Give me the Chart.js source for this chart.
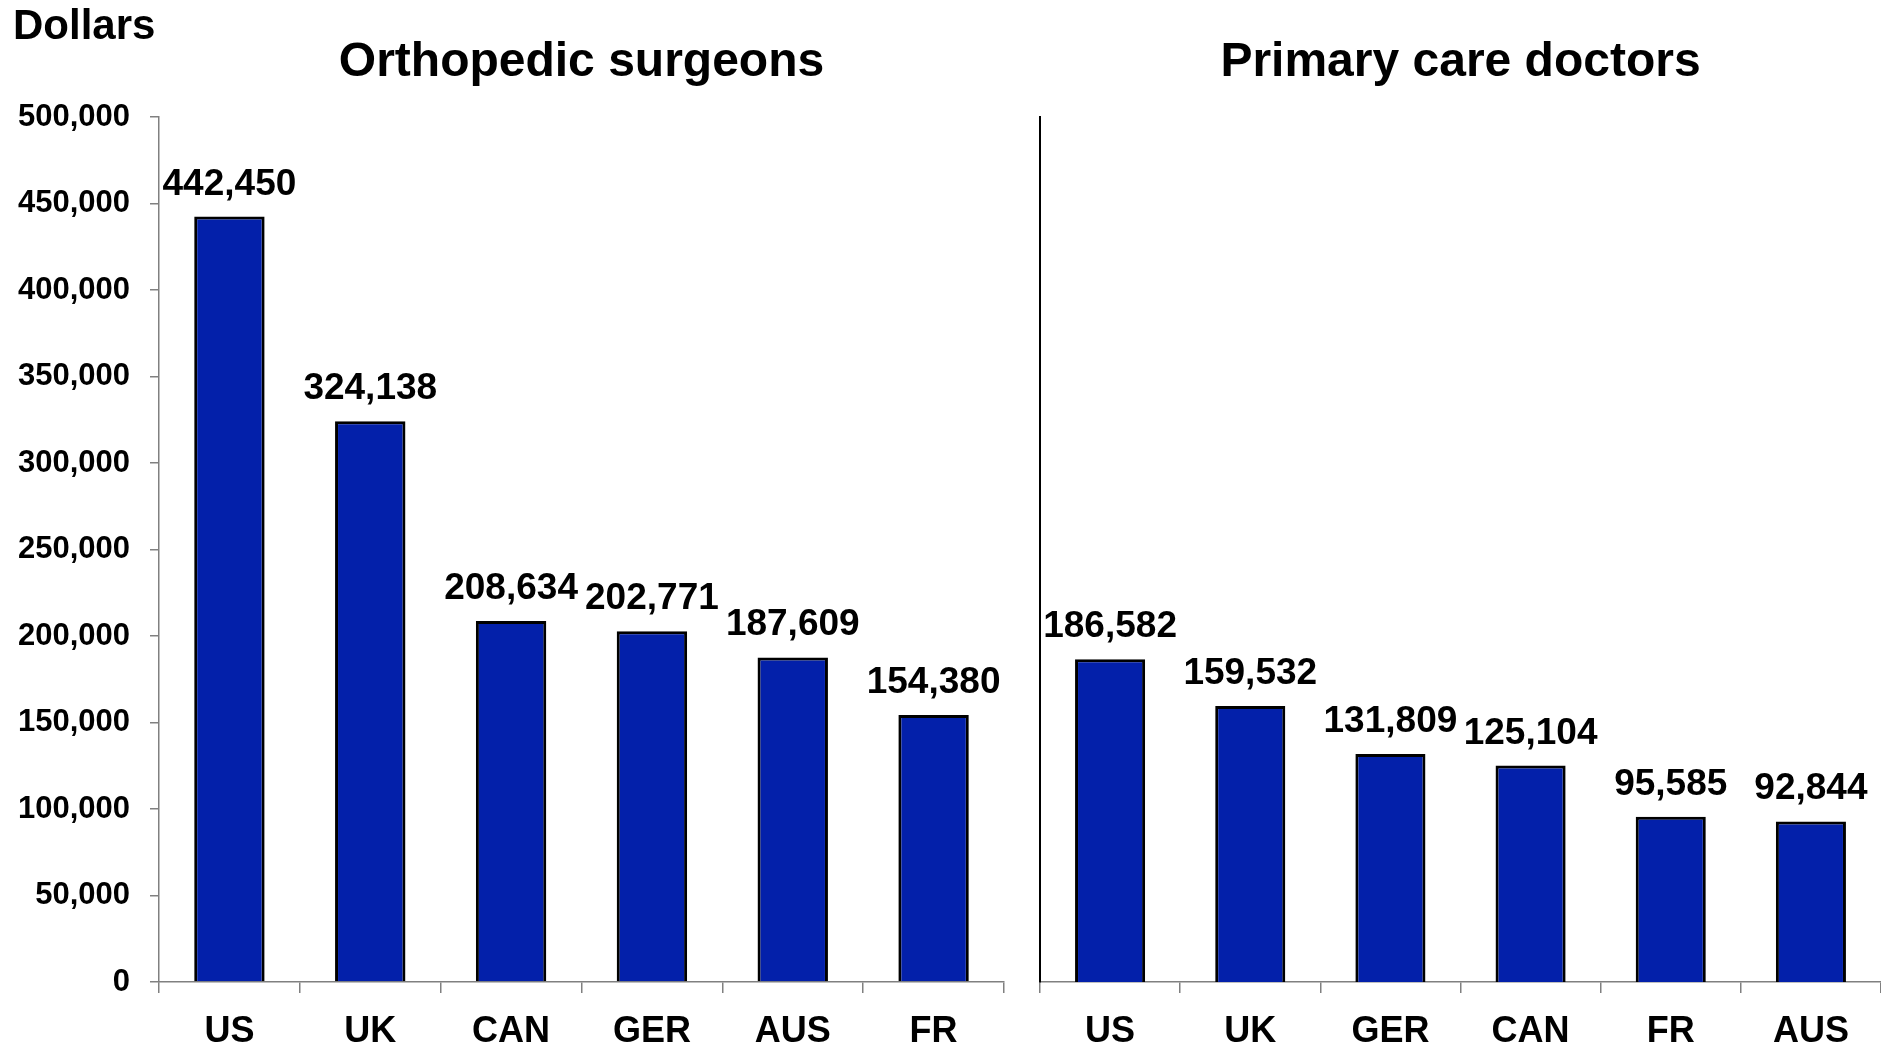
<!DOCTYPE html>
<html>
<head>
<meta charset="utf-8">
<title>Physician earnings</title>
<script src="https://cdn.jsdelivr.net/npm/chart.js@4.4.1/dist/chart.umd.min.js"></script>
<style>
  html, body { margin: 0; padding: 0; background: #fff; overflow: hidden; }
  #wrap { position: relative; width: 1881px; height: 1048px; }
  canvas { position: absolute; top: 0; }
  #left { left: 0; }
  #right { left: 1010px; }
</style>
</head>
<body>
<div id="wrap">
  <canvas id="left" width="1010" height="1048"></canvas>
  <canvas id="right" width="871" height="1048"></canvas>
</div>
<script>
const orthoLabels = ['US', 'UK', 'CAN', 'GER', 'AUS', 'FR'];
const orthoValues = [442450, 324138, 208634, 202771, 187609, 154380];

const primaryLabels = ['US', 'UK', 'GER', 'CAN', 'FR', 'AUS'];
const primaryValues = [186582, 159532, 131809, 125104, 95585, 92844];

const yMin = 0;
const yMax = 500000;
const yStep = 50000;

const FONT = '"Liberation Sans", Arial, Helvetica, sans-serif';
const BAR_FILL = '#0320AA';
const AXIS_GREY = '#808080';

const fmt = v => Number(v).toLocaleString('en-US');

// value labels above each bar
const valueLabels = {
  id: 'valueLabels',
  afterDatasetsDraw(chart) {
    const ctx = chart.ctx;
    const meta = chart.getDatasetMeta(0);
    const data = chart.data.datasets[0].data;
    ctx.save();
    ctx.font = 'bold 37px ' + FONT;
    ctx.fillStyle = '#000';
    ctx.textAlign = 'center';
    ctx.textBaseline = 'alphabetic';
    meta.data.forEach((bar, i) => {
      ctx.fillText(fmt(data[i]), bar.x, bar.y - 22);
    });
    ctx.restore();
  }
};

// unit caption in the top-left corner
const unitCaption = {
  id: 'unitCaption',
  afterDraw(chart) {
    const ctx = chart.ctx;
    ctx.save();
    ctx.font = 'bold 42px ' + FONT;
    ctx.fillStyle = '#000';
    ctx.textAlign = 'left';
    ctx.textBaseline = 'alphabetic';
    ctx.fillText('Dollars', 13, 39);
    ctx.restore();
  }
};

function makeChart(el, labels, values, title, withTicks, axisWidth, padRight) {
  return new Chart(el, {
    type: 'bar',
    data: {
      labels: labels,
      datasets: [{
        data: values,
        backgroundColor: BAR_FILL,
        borderColor: '#000',
        borderWidth: 3,
        categoryPercentage: 1,
        barPercentage: 0.5
      }]
    },
    options: {
      responsive: false,
      animation: false,
      devicePixelRatio: 1,
      layout: { padding: { top: 0, left: 0, right: padRight, bottom: 0 } },
      plugins: {
        legend: { display: false },
        tooltip: { enabled: false },
        title: {
          display: true,
          text: title,
          fullSize: false,
          color: '#000',
          font: { family: FONT, size: 48, weight: 'bold', lineHeight: 1.2 },
          padding: { top: 34, bottom: 25.4 }
        }
      },
      scales: {
        x: {
          offset: true,
          grid: {
            offset: true,
            drawOnChartArea: false,
            drawTicks: true,
            tickLength: 11,
            color: AXIS_GREY,
            lineWidth: 1.5
          },
          border: { display: true, color: AXIS_GREY, width: 1.5 },
          ticks: {
            color: '#000',
            padding: 17,
            font: { family: FONT, size: 36, weight: 'bold', lineHeight: 1.2 }
          },
          afterFit(scale) { scale.height = 66; }
        },
        y: {
          min: yMin,
          max: yMax,
          grid: {
            display: withTicks,
            drawOnChartArea: false,
            drawTicks: true,
            tickLength: 9,
            color: AXIS_GREY,
            lineWidth: 1.5
          },
          border: {
            display: true,
            color: withTicks ? AXIS_GREY : '#000',
            width: withTicks ? 1.5 : 2
          },
          ticks: {
            display: withTicks,
            stepSize: yStep,
            color: '#000',
            padding: 20,
            font: { family: FONT, size: 31, weight: 'bold' },
            callback: v => fmt(v)
          },
          afterFit(scale) { scale.width = axisWidth; }
        }
      }
    },
    plugins: withTicks ? [valueLabels, unitCaption] : [valueLabels]
  });
}

makeChart(document.getElementById('left'), orthoLabels, orthoValues,
  'Orthopedic surgeons', true, 159, 6);
makeChart(document.getElementById('right'), primaryLabels, primaryValues,
  'Primary care doctors', false, 30, 0);
</script>
</body>
</html>
